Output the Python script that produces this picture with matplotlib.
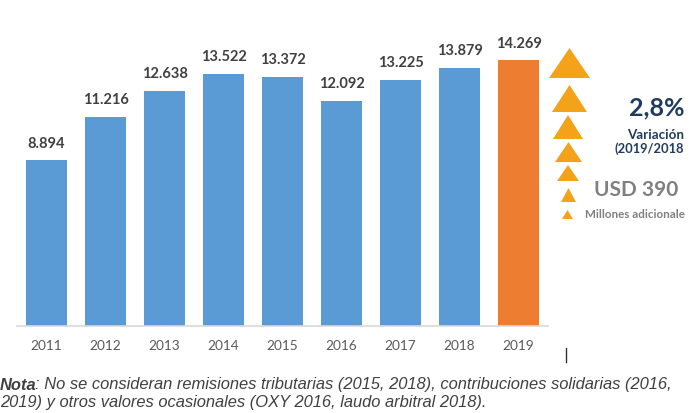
import matplotlib
matplotlib.use("Agg")
import matplotlib.pyplot as plt
from matplotlib.patches import Polygon
from matplotlib.lines import Line2D

years = ["2011", "2012", "2013", "2014", "2015", "2016", "2017", "2018", "2019"]
values = [8894, 11216, 12638, 13522, 13372, 12092, 13225, 13879, 14269]
value_labels = ["8.894", "11.216", "12.638", "13.522", "13.372", "12.092", "13.225", "13.879", "14.269"]
colors = ["#5B9BD5"] * 8 + ["#ED7D31"]

fig = plt.figure(figsize=(7.0, 4.13), dpi=100)
W, H = 700, 413
ax = fig.add_axes([17 / W, 1 - 326 / H, (548 - 17) / W, (326 - 28) / H])

x = list(range(len(years)))
ax.bar(x, values, width=0.68, color=colors, zorder=2)
ax.set_xlim(-0.5, len(years) - 0.5)
ax.set_ylim(0, 16000)
for s in ["top", "right", "left"]:
    ax.spines[s].set_visible(False)
ax.spines["bottom"].set_color("#D9D9D9")
ax.spines["bottom"].set_linewidth(1.2)
ax.set_yticks([])
ax.set_xticks(x)
ax.set_xticklabels(years, fontsize=9.8, color="#595959", family=["Lato", "DejaVu Sans"])
ax.tick_params(axis="x", length=0, pad=10)

for xi, v, lab in zip(x, values, value_labels):
    ax.annotate(lab, (xi, v), xytext=(0, 7), textcoords="offset points",
                ha="center", va="bottom", fontsize=10.5, fontweight="bold",
                color="#404040", family=["Lato", "DejaVu Sans"])

# triangles (pixel coordinates: x_left, x_right, y_top, y_bottom)
tris = [(549, 590, 48, 78), (552, 587, 85, 112), (553, 583, 115, 139),
        (555, 582, 142, 162), (557, 579, 165, 181), (561, 576, 188, 202),
        (562, 573, 210, 219)]
for xl, xr, yt, yb in tris:
    pts = [(xl / W, 1 - yb / H), (xr / W, 1 - yb / H), ((xl + xr) / 2 / W, 1 - yt / H)]
    fig.patches.append(Polygon(pts, closed=True, transform=fig.transFigure,
                               facecolor="#F5A21B", edgecolor="none"))

fam = ["Lato", "DejaVu Sans"]
fig.text(684 / W, 1 - 108 / H, "2,8%", ha="right", va="center", fontsize=18,
         fontweight="bold", color="#1F3B5F", family=fam)
fig.text(684 / W, 1 - 135 / H, "Variación", ha="right", va="center", fontsize=9.6,
         fontweight="bold", color="#1F3B5F", family=fam)
fig.text(684 / W, 1 - 149 / H, "(2019/2018", ha="right", va="center", fontsize=9.3,
         fontweight="bold", color="#1F3B5F", family=fam)
fig.text(678 / W, 1 - 190 / H, "USD 390", ha="right", va="center", fontsize=15,
         fontweight="bold", color="#808080", family=fam)
fig.text(685 / W, 1 - 215 / H, "Millones adicionale", ha="right", va="center", fontsize=8.4,
         fontweight="bold", color="#808080", family=fam)

# stray vertical mark
fig.add_artist(Line2D([566 / W, 566 / W], [1 - 348 / H, 1 - 362 / H],
                      transform=fig.transFigure, color="#333333", linewidth=1))

nfam = ["Liberation Sans", "DejaVu Sans"]
fs = 11.9
fig.text(0, 1 - 385 / H, "Nota", ha="left", va="center", fontsize=fs,
         fontweight="bold", style="italic", color="#404040", family=nfam)
fig.text(35 / W, 1 - 385 / H,
         ": No se consideran remisiones tributarias (2015, 2018), contribuciones solidarias (2016,",
         ha="left", va="center", fontsize=fs, style="italic", color="#404040", family=nfam)
fig.text(0, 1 - 403 / H,
         "2019) y otros valores ocasionales (OXY 2016, laudo arbitral 2018).",
         ha="left", va="center", fontsize=fs, style="italic", color="#404040", family=nfam)

fig.savefig("out.png", dpi=100)
